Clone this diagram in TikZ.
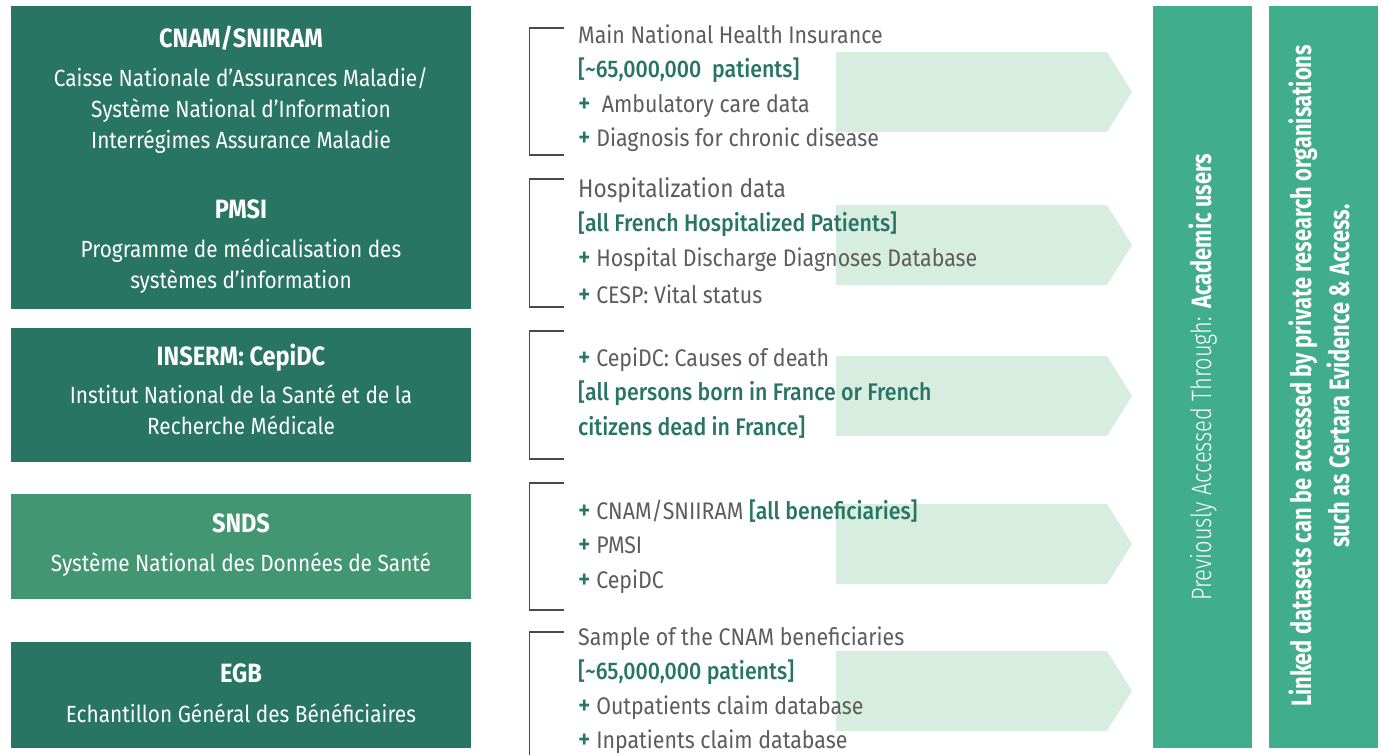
\documentclass[tikz,border=0pt]{standalone}
\usepackage{fontspec}
\setmainfont{Fira Sans}[FakeStretch=0.89]
\newfontfamily\narrowfont{Fira Sans}[FakeStretch=0.78]
\IfFontExistsTF{Fira Sans Light}
  {\newfontfamily\lightfont{Fira Sans Light}[FakeStretch=0.78]}
  {\IfFontExistsTF{FiraSans-Light.otf}
    {\newfontfamily\lightfont{FiraSans-Light.otf}[FakeStretch=0.78]}
    {\newfontfamily\lightfont{Fira Sans}[FakeStretch=0.78]}}
\IfFontExistsTF{Fira Sans Medium}
  {\newfontfamily\medfont{Fira Sans Medium}[FakeStretch=0.89]}
  {\IfFontExistsTF{FiraSans-Medium.otf}
    {\newfontfamily\medfont{FiraSans-Medium.otf}[FakeStretch=0.89]}
    {\newfontfamily\medfont{Fira Sans}[FakeStretch=0.89,FakeBold=1.2]}}
\usepackage{xcolor}
\usetikzlibrary{positioning}

\definecolor{darkteal}{HTML}{287563}
\definecolor{midteal}{HTML}{439672}
\definecolor{barteal}{HTML}{40AE8A}
\definecolor{palegreen}{HTML}{D6EDDF}
\definecolor{textgray}{HTML}{5C5C5C}
\definecolor{bracketgray}{HTML}{4A4A4A}

\newcommand{\hl}[1]{\textcolor{darkteal}{\medfont #1}}
\newcommand{\pl}{\textcolor{darkteal}{\medfont\fontsize{27}{34.5}\selectfont +}}
\newcommand{\ttl}[1]{{\bfseries\fontsize{26.5}{31}\selectfont #1}}

\begin{document}
\begin{tikzpicture} [
       x=1pt, y=-1pt,
       srcbox/.style={fill=darkteal, inner sep=0pt, anchor=north west,
               minimum width=460pt},
       srctext/.style={text=white, align=center, inner sep=0pt, anchor=north,
               font=\fontsize{23.4}{31}\selectfont},
       item/.style={text=textgray, align=left, inner sep=0pt, anchor=north west,
               font=\fontsize{24}{34.5}\selectfont},
       bracket/.style={draw=bracketgray, line width=1.2pt},
       pointer/.style={fill=palegreen},
       bar/.style={fill=barteal, inner sep=0pt, anchor=north west,
               minimum height=742pt},
       bartext/.style={text=white, rotate=90, align=center, inner sep=0pt,
               font=\fontsize{28}{38}\selectfont},
       ]
       \useasboundingbox (0,0) rectangle (1381,755);
       % light pointers behind the lists
       \foreach \cy in {92,245,396,544,691}
         \fill[pointer] (836,\cy-40) -- (1107,\cy-40) -- (1132,\cy)
               -- (1107,\cy+40) -- (836,\cy+40) -- cycle;
       % source boxes
       \node (cnambox) [srcbox, minimum height=303pt] at (11,6) {};
       \node (insermbox) [srcbox, minimum height=134pt] at (11,328) {};
       \node (sndsbox) [srcbox, fill=midteal, minimum height=105pt] at (11,494) {};
       \node (egbbox) [srcbox, minimum height=106pt] at (11,642) {};
       \node (cnam) [srctext] at (241,25.3) {\strut\ttl{CNAM/SNIIRAM}\\[8pt]
               Caisse Nationale d’Assurances Maladie/\\
               Système National d’Information\\
               Interrégimes Assurance Maladie};
       \node (pmsi) [srctext] at (241,196.3) {\strut\ttl{PMSI}\\[8pt]
               Programme de médicalisation des\\
               systèmes d’information};
       \node (inserm) [srctext] at (241,343.3) {\strut\ttl{INSERM: CepiDC}\\[7pt]
               Institut National de la Santé et de la\\
               Recherche Médicale};
       \node (snds) [srctext] at (241,510.3) {\strut\ttl{SNDS}\\[8pt]
               Système National des Données de Santé};
       \node (egb) [srctext] at (241,660.3) {\strut\ttl{EGB}\\[9pt]
               Echantillon Général des Bénéficiaires};
       % lists
       \node (mainlist) [item] at (578,18.85) {\strut Main National Health Insurance\\
               \hl{[\textasciitilde 65,000,000\ \ patients]}\\
               \pl\ \ Ambulatory care data\\
               \pl\ Diagnosis for chronic disease};
       \node (hosplist) [item] at (578,172.85) {\strut\fontsize{25.5}{34.5}\selectfont Hospitalization data\\
               \hl{[all French Hospitalized Patients]}\\
               \pl\ Hospital Discharge Diagnoses Database\\[3pt]
               \pl\ CESP: Vital status};
       \node (deathlist) [item] at (578,341.85) {\strut\pl\ CepiDC: Causes of death\\
               \hl{[all persons born in France or French}\\
               \hl{citizens dead in France]}};
       \node (sndslist) [item] at (578,494.85) {\strut\pl\ CNAM/SNIIRAM \hl{[all beneficiaries]}\\
               \pl\ PMSI\\
               \pl\ CepiDC};
       \node (egblist) [item] at (578,620.85) {\strut Sample of the CNAM beneficiaries\\
               \hl{[\textasciitilde 65,000,000 patients]}\\
               \pl\ Outpatients claim database\\
               \pl\ Inpatients claim database};
       % brackets
       \draw[bracket] (564,28) -- (529.5,28) -- (529.5,155) -- (564,155);
       \draw[bracket] (564,179) -- (529.5,179) -- (529.5,307) -- (564,307);
       \draw[bracket] (564,331) -- (529.5,331) -- (529.5,459) -- (564,459);
       \draw[bracket] (564,483) -- (529.5,483) -- (529.5,610) -- (564,610);
       \draw[bracket] (564,632) -- (529.5,632) -- (529.5,755);
       % access bars
       \node (prevbar) [bar, minimum width=99pt] at (1153,6) {};
       \node (linkbar) [bar, minimum width=109pt] at (1269,6) {};
       \node (prevtext) [bartext] at (prevbar.center)
               {{\lightfont Previously Accessed Through:} {\narrowfont\bfseries Academic users}};
       \node (linktext) [bartext, font=\narrowfont\bfseries\fontsize{28}{38}\selectfont]
               at (1319,376) {Linked datasets can be accessed by private research organisations\\
               such as Certara Evidence \& Access.};
\end{tikzpicture}
\end{document}
